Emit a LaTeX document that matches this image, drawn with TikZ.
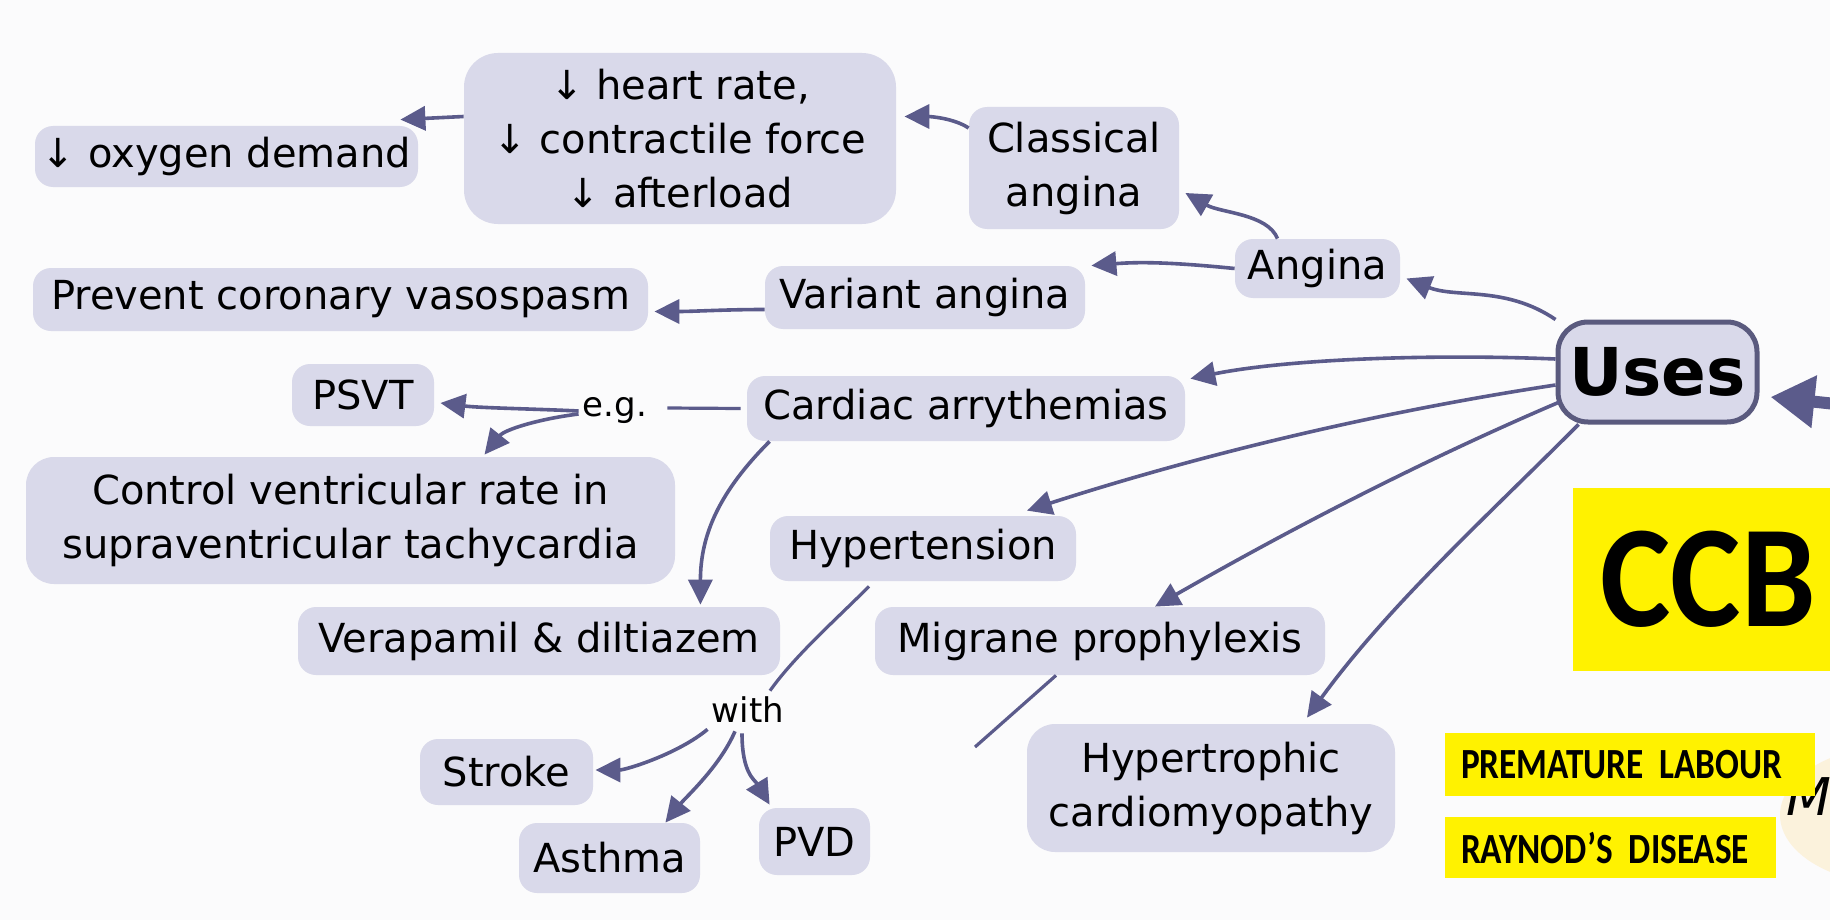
\documentclass[tikz,border=0pt]{standalone}
\usepackage{fontspec}
\usepackage{graphicx}
\setmainfont{DejaVu Sans}
\newfontfamily\calfont{Carlito}
\usetikzlibrary{arrows.meta,calc}
\definecolor{boxfill}{HTML}{D9D9EA}
\definecolor{arr}{HTML}{5B5B8B}
\definecolor{usesborder}{HTML}{5A5A7E}
\definecolor{bg}{HTML}{FBFBFC}
\definecolor{pale}{HTML}{FBF2DC}
\begin{document}
\begin{tikzpicture}[x=0.5pt,y=-0.5pt,
  box/.style={fill=boxfill, rounded corners=9pt, inner sep=0pt, align=center, font=\fontsize{20pt}{27pt}\selectfont},
  conn/.style={draw=arr, line width=1.8pt, -{Triangle[length=12.5pt,width=12pt]}},
  plain/.style={draw=arr, line width=1.6pt},
  lbl/.style={inner sep=2pt, font=\fontsize{17pt}{20pt}\selectfont},
  hl/.style={fill=yellow, inner sep=0pt, font=\calfont\bfseries\fontsize{21.5pt}{24pt}\selectfont, align=left}
]
\clip (0,0) rectangle (1830,920);
\fill[bg] (0,0) rectangle (1830,920);

% decorative fragment at right edge
\fill[pale] (1900,815) ellipse[x radius=60pt, y radius=35pt];
\node[font=\itshape\fontsize{26pt}{28pt}\selectfont, inner sep=0pt, anchor=west] (mfrag) at (1786,797) {M};

\node[box, minimum width=191.5pt, minimum height=30.5pt] (oxy) at (226.5,156.5) {↓ oxygen demand};
\node[box, rounded corners=17pt, minimum width=216pt, minimum height=85.5pt] (hr) at (680,138.5) {↓ heart rate,\\↓ contractile force\\↓ afterload};
\node[box, minimum width=105pt, minimum height=61pt] (classical) at (1074,168) {Classical\\angina};
\node[box, minimum width=82.5pt, minimum height=29.5pt] (angina) at (1317.5,268.5) {Angina};
\node[box, minimum width=160pt, minimum height=31.5pt] (variant) at (925,297.5) {Variant angina};
\node[box, minimum width=307.5pt, minimum height=31.5pt] (prevent) at (340.5,299.5) {Prevent coronary vasospasm};
\node[box, draw=usesborder, line width=2.5pt, rounded corners=15pt, minimum width=99.5pt, minimum height=50pt, font=\bfseries\fontsize{33pt}{38pt}\selectfont] (uses) at (1657.5,372) {Uses};
\node[box, minimum width=219pt, minimum height=32.5pt] (cardiac) at (966,408.5) {Cardiac arrythemias};
\node[lbl] (eg) at (615,411) {e.g.};
\node[box, minimum width=71pt, minimum height=31pt] (psvt) at (363,395) {PSVT};
\node[box, rounded corners=14pt, minimum width=324.5pt, minimum height=63.5pt] (control) at (350.5,520.5) {Control ventricular rate in\\supraventricular tachycardia};
\node[box, minimum width=153pt, minimum height=32.5pt] (hyper) at (923,548.5) {Hypertension};
\node[box, minimum width=241pt, minimum height=34pt] (verap) at (539,641) {Verapamil \& diltiazem};
\node[box, minimum width=225pt, minimum height=34pt] (migrane) at (1100,641) {Migrane prophylexis};
\node[lbl] (with) at (748,710) {with};
\node[box, minimum width=86.5pt, minimum height=33pt] (stroke) at (506.5,772) {Stroke};
\node[box, minimum width=90.5pt, minimum height=35pt] (asthma) at (609.5,858) {Asthma};
\node[box, minimum width=55.5pt, minimum height=33.5pt] (pvd) at (814.5,841.5) {PVD};
\node[box, rounded corners=14pt, minimum width=184pt, minimum height=64pt] (hcm) at (1211,788) {Hypertrophic\\cardiomyopathy};

\node[fill=yellow, inner sep=0pt, minimum width=135pt, minimum height=91.5pt, font=\calfont\bfseries\fontsize{70pt}{70pt}\selectfont] (ccb) at (1708,579.5) {\scalebox{0.95}[1.04]{CCB}};
\node[hl, minimum height=31.5pt, text width=169pt, inner xsep=8pt] (prem) at (1630,764.5) {\scalebox{0.82}[1]{PREMATURE\hspace{0.45em}LABOUR}};
\node[hl, minimum height=30.5pt, text width=149.5pt, inner xsep=8pt] (ray) at (1610.5,847.5) {\scalebox{0.82}[1]{RAYNOD’S\hspace{0.45em}DISEASE}};

% connectors
\draw[conn] (uses.north west) .. controls +(-50,-34) and +(50,20) .. ($(angina.east)+(6,10)$);
\draw[conn] ($(angina.north)+(-40,0)$) .. controls +(-10,-25) and +(35,20) .. ($(classical.east)+(6,25)$);
\draw[conn] (angina.west) .. controls +(-60,-6) and +(50,-4) .. ($(variant.north east)+(6,0)$);
\draw[conn] ($(classical.west)+(0,-40)$) .. controls +(-15,-10) and +(25,0) .. ($(hr.east)+(8,-22)$);
\draw[conn] ($(hr.west)+(0,-22)$) -- ($(oxy.north east)+(-18,-6)$);
\draw[conn] ($(variant.west)+(0,12)$) .. controls +(-40,0) and +(40,0) .. ($(prevent.east)+(6,12)$);
\draw[conn] ($(uses.west)+(0,-13)$) .. controls +(-120,-5) and +(100,-20) .. ($(cardiac.north east)+(5,3)$);
\draw[conn] ($(uses.west)+(0,13)$) .. controls +(-177,27) and +(177,-57) .. ($(hyper.north)+(104,-5)$);
\draw[conn] ($(uses.west)+(4,30)$) .. controls +(-136,58) and +(136,-78) .. ($(migrane.north)+(55,0)$);
\draw[conn] ($(uses.south west)+(23,0)$) .. controls +(-95,95) and +(80,-110) .. ($(hcm.north)+(96,-6)$);
\draw[plain] ($(cardiac.west)+(-6,0)$) -- ($(eg.east)+(16,-3)$);
\draw[conn] (eg.west) .. controls +(-40,-2) and +(40,5) .. ($(psvt.east)+(6,8)$);
\draw[conn] ($(eg.west)+(0,3)$) .. controls +(-40,5) and +(20,-25) .. ($(control.north)+(134,-2)$);
\draw[conn] ($(cardiac.south west)+(23,0)$) .. controls +(-50,50) and +(0,-70) .. ($(verap.north east)+(-80,-2)$);
\draw[plain] ($(hyper.south)+(-54,5)$) .. controls +(-35,35) and +(25,-35) .. ($(with.north)+(22,-2)$);
\draw[conn] ($(with.south west)+(0,2)$) .. controls +(-30,25) and +(30,0) .. ($(stroke.east)+(2,-2)$);
\draw[conn] ($(with.south)+(-13,4)$) .. controls +(-15,35) and +(20,-25) .. ($(asthma.north east)+(-35,0)$);
\draw[conn] ($(with.south)+(-6,6)$) .. controls +(0,40) and +(-15,-25) .. ($(pvd.north west)+(11,-3)$);
\coordinate (mfree) at (975,747);
\draw[plain] ($(migrane.south)+(-44,0)$) -- (mfree);
\coordinate (bigstart) at (1845,405);
\draw[draw=arr, line width=6pt, -{Triangle[length=22pt,width=25pt]}] (bigstart) -- ($(uses.east)+(11,25)$);
\end{tikzpicture}
\end{document}
